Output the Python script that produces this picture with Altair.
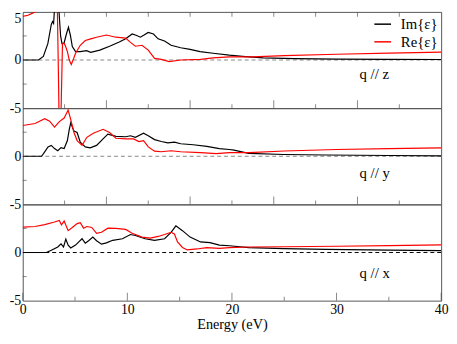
import altair as alt
import pandas as pd

SERIES = ["Im{ε}", "Re{ε}"]
COLORS = ["#000000", "#ff0000"]

# ---- q // z ----
z_im_x = [0, 1.5, 1.97, 2.4, 2.73, 2.85, 2.95, 3.05, 3.2, 3.35, 3.5, 3.62, 3.75, 3.95, 4.15, 4.37, 4.55, 4.74,
          5.05, 5.5, 6.1, 6.5, 7.37, 8.3, 9.23, 9.84, 10.46, 10.9, 11.24, 11.6, 12.0, 12.5, 12.94, 13.56,
          14.18, 15.1, 16.0, 16.96, 18.2, 19.75, 21, 23, 26, 30, 35, 40]
z_im_y = [0, 0, 0.37, 1.7, 3.7, 4.0, 3.8, 5.5, 7.5, 7.0, 4.5, 2.5, 1.7, 1.75, 2.6, 3.4, 2.6, 1.4,
          0.87, 0.87, 0.97, 0.8, 1.03, 1.43, 1.87, 2.2, 2.7, 2.55, 2.37, 2.6, 2.87, 2.7, 2.2, 1.97,
          1.53, 1.27, 1.1, 0.87, 0.7, 0.5, 0.38, 0.22, 0.15, 0.1, 0.07, 0.05]
z_re_x = [0, 0.5, 1.0, 1.18, 1.6, 2.2, 2.7, 3.1, 3.3, 3.42, 3.5, 3.65, 3.8, 3.96, 4.1, 4.27, 4.45, 4.64,
          4.85, 5.05, 5.5, 5.98, 6.5, 7.06, 8.0, 8.9, 9.84, 10.3, 10.77, 11.4, 12.0, 12.6, 13.25, 14.0,
          15.1, 17.0, 18.2, 19.75, 22, 25, 30, 35, 40]
z_re_y = [4.53, 4.65, 4.9, 5.0, 5.8, 6.8, 8.5, 9.5, 6.0, -2.0, -8.0, -6.0, 1.7, 1.75, 1.4, 0.87, 0.0, -0.47,
          0.1, 0.7, 1.53, 2.03, 2.2, 2.37, 2.6, 2.37, 2.27, 1.83, 1.43, 1.53, 1.03, 0.17, 0.07, -0.17,
          0.0, 0.07, 0.23, 0.33, 0.33, 0.45, 0.6, 0.72, 0.82]

# ---- q // y ----
y_im_x = [0, 1.8, 2.0, 2.42, 2.73, 3.04, 3.35, 3.66, 3.96, 4.27, 4.45, 4.59, 4.75, 4.9, 5.2, 5.5, 5.98,
          6.44, 7.06, 7.68, 8.14, 8.91, 9.84, 10.3, 10.77, 11.55, 12.0, 12.6, 13.25, 13.87, 14.5, 15.1,
          16.3, 17.6, 18.8, 19.75, 20.2, 21.6, 25, 29, 35, 40]
y_im_y = [0, 0, 0.3, 0.97, 1.13, 0.8, 0.57, 0.9, 0.8, 1.63, 2.8, 3.47, 3.0, 2.63, 2.47, 1.47, 0.97,
          0.87, 1.13, 1.8, 2.3, 2.07, 2.03, 2.13, 1.97, 2.4, 2.13, 1.73, 1.53, 1.4, 1.47, 1.3,
          1.2, 1.03, 0.8, 0.7, 0.63, 0.3, 0.18, 0.13, 0.08, 0.05]
y_re_x = [0, 1.18, 2.1, 2.57, 3.04, 3.5, 3.96, 4.34, 4.59, 4.9, 5.2, 5.67, 6.13, 6.75, 7.68, 8.3, 8.91,
          9.84, 10.6, 11.1, 11.55, 12.0, 12.6, 13.25, 14.18, 15.1, 17, 18.5, 19.75, 21.6, 25, 30, 35, 40]
y_re_y = [3.2, 3.4, 3.9, 3.65, 3.03, 3.6, 3.97, 4.8, 3.8, 2.47, 1.63, 1.13, 1.97, 2.4, 2.8, 2.47, 1.87,
          1.8, 1.8, 1.53, 1.63, 0.97, 0.53, 0.47, 0.57, 0.47, 0.37, 0.27, 0.37, 0.37, 0.55, 0.7, 0.8, 0.87]

# ---- q // x ----
x_im_x = [0, 2.26, 2.73, 3.35, 3.66, 3.9, 4.12, 4.34, 4.59, 5.05, 5.36, 5.67, 5.98, 6.3, 6.7, 7.06, 7.53,
          8.0, 8.6, 9.53, 10.3, 10.77, 11.7, 12.6, 13.56, 14.18, 14.64, 15.27, 16.0, 17.0, 17.9, 18.8,
          19.75, 21.6, 25, 29, 35, 40]
x_im_y = [0, 0, 0.23, 0.57, 0.9, 0.57, 1.4, 0.77, 0.47, 0.77, 1.1, 1.43, 0.97, 1.23, 1.6, 1.23, 0.87,
          1.0, 1.27, 1.43, 1.87, 1.77, 1.43, 1.27, 1.43, 2.1, 2.77, 2.27, 1.6, 1.1, 1.03, 0.77,
          0.7, 0.5, 0.4, 0.33, 0.25, 0.2]
x_re_x = [0, 1.18, 2.1, 3.04, 3.5, 3.7, 3.96, 4.34, 4.74, 5.2, 5.5, 5.82, 6.13, 6.6, 7.06, 7.53, 8.14,
          8.9, 9.84, 10.46, 11.4, 12.2, 12.94, 13.56, 14.18, 14.5, 14.8, 15.27, 15.73, 16.65, 17.6, 18.8,
          19.75, 21.6, 25, 30, 35, 40]
x_re_y = [2.63, 2.7, 2.9, 3.17, 3.33, 2.87, 3.27, 2.27, 2.6, 3.0, 3.1, 2.53, 2.7, 2.6, 2.0, 2.1, 2.53,
          2.5, 2.4, 2.0, 1.6, 1.5, 1.67, 1.87, 2.1, 1.93, 1.1, 0.53, 0.27, 0.37, 0.5, 0.43,
          0.5, 0.57, 0.6, 0.65, 0.72, 0.8]

panel_labels = ["q // z", "q // y", "q // x"]
label_x = [32.2, 32.2, 32.2]
label_y = [-1.5, -1.7, -2.1]

energy_ticks = [0, 10, 20, 30, 40]
energy_minor = [5, 15, 25, 35]
inner_major = [8, 16, 24, 32]
inner_minor = [4, 12, 20, 28, 36]
eps_minor = [-2.5, 2.5]

W, H = 426, 98
FONT = "Liberation Serif"
FRAME = "#555555"


def long_df(im_x, im_y, re_x, re_y):
    a = pd.DataFrame({"x": im_x, "y": im_y, "series": SERIES[0]})
    b = pd.DataFrame({"x": re_x, "y": re_y, "series": SERIES[1]})
    return pd.concat([a, b], ignore_index=True)


def panel(df, idx, y_values, zero_color, bottom_major, bottom_minor, top_ticks, show_x, show_legend):
    xs = alt.Scale(domain=[0, 40], nice=False, zero=False)
    ys = alt.Scale(domain=[-5, 5], nice=False, zero=False)
    if show_x:
        xax = alt.Axis(values=energy_ticks, title="Energy (eV)", ticks=False, domain=False, grid=False,
                       labelFlush=False, labelFont=FONT, labelFontSize=14, labelPadding=2,
                       labelColor="black", titleFont=FONT, titleFontSize=14.5,
                       titleFontWeight="normal", titleColor="black", titlePadding=1)
    else:
        xax = None
    yax = alt.Axis(values=y_values, title=None, ticks=False, domain=False, grid=False,
                   labelFont=FONT, labelFontSize=14, labelPadding=2, labelColor="black",
                   labelExpr="datum.value < 0 ? '-' + abs(datum.value) : '' + datum.value",
                   labelBaseline={"condition": {"test": "datum.value == 5", "value": "top"},
                                  "value": "middle"})

    def X():
        return alt.X("x:Q", scale=xs, axis=xax)

    def Y():
        return alt.Y("y:Q", scale=ys, axis=yax)

    if show_legend:
        leg = alt.Legend(title=None, orient="none", legendX=W - 69, legendY=3,
                         symbolType="stroke", symbolSize=289, symbolStrokeWidth=1.5,
                         labelFont=FONT, labelFontSize=15, labelOffset=9, rowPadding=0,
                         padding=0, labelColor="black")
    else:
        leg = None

    zero = alt.Chart(pd.DataFrame({"y": [0]})).mark_rule(
        color=zero_color, strokeDash=[4, 3], strokeWidth=1).encode(y=Y())

    lines = alt.Chart(df).mark_line(clip=True, strokeWidth=1.2).encode(
        x=X(), y=Y(),
        color=alt.Color("series:N", scale=alt.Scale(domain=SERIES, range=COLORS), legend=leg))

    left_ticks = alt.Chart(pd.DataFrame({"x": 0, "y": eps_minor})).mark_tick(
        orient="horizontal", size=4, xOffset=2, thickness=1, color=FRAME).encode(x=X(), y=Y())
    bmaj = alt.Chart(pd.DataFrame({"x": bottom_major, "y": -5})).mark_tick(
        orient="vertical", size=8, yOffset=-4, thickness=1, color=FRAME).encode(x=X(), y=Y())
    bmin = alt.Chart(pd.DataFrame({"x": bottom_minor, "y": -5})).mark_tick(
        orient="vertical", size=4, yOffset=-2, thickness=1, color=FRAME).encode(x=X(), y=Y())
    layers = [zero, lines, left_ticks, bmaj, bmin]
    if top_ticks:
        tmaj = alt.Chart(pd.DataFrame({"x": top_ticks, "y": 5})).mark_tick(
            orient="vertical", size=5, yOffset=2.5, thickness=1, color=FRAME).encode(x=X(), y=Y())
        layers.append(tmaj)

    txt = alt.Chart(pd.DataFrame({"x": [label_x[idx]], "y": [label_y[idx]], "t": [panel_labels[idx]]})).mark_text(
        align="left", baseline="middle", font=FONT, fontSize=15, color="black").encode(
        x=X(), y=Y(), text="t:N")
    layers.append(txt)
    return alt.layer(*layers).properties(width=W, height=H)


p1 = panel(long_df(z_im_x, z_im_y, z_re_x, z_re_y), 0, [-5, 0, 5], "#888888",
           inner_major, inner_minor, inner_major + inner_minor, False, True)
p2 = panel(long_df(y_im_x, y_im_y, y_re_x, y_re_y), 1, [-5, 0], "#888888",
           inner_major, inner_minor, None, False, False)
p3 = panel(long_df(x_im_x, x_im_y, x_re_x, x_re_y), 2, [-5, 0], "#000000",
           energy_ticks, energy_minor, None, True, False)

chart = alt.vconcat(p1, p2, p3, spacing=0, bounds="flush").resolve_legend(
    color="independent").properties(padding=0).configure_view(stroke=FRAME, strokeWidth=1)

chart.save("out.html", embed_options={"renderer": "svg", "actions": False})
